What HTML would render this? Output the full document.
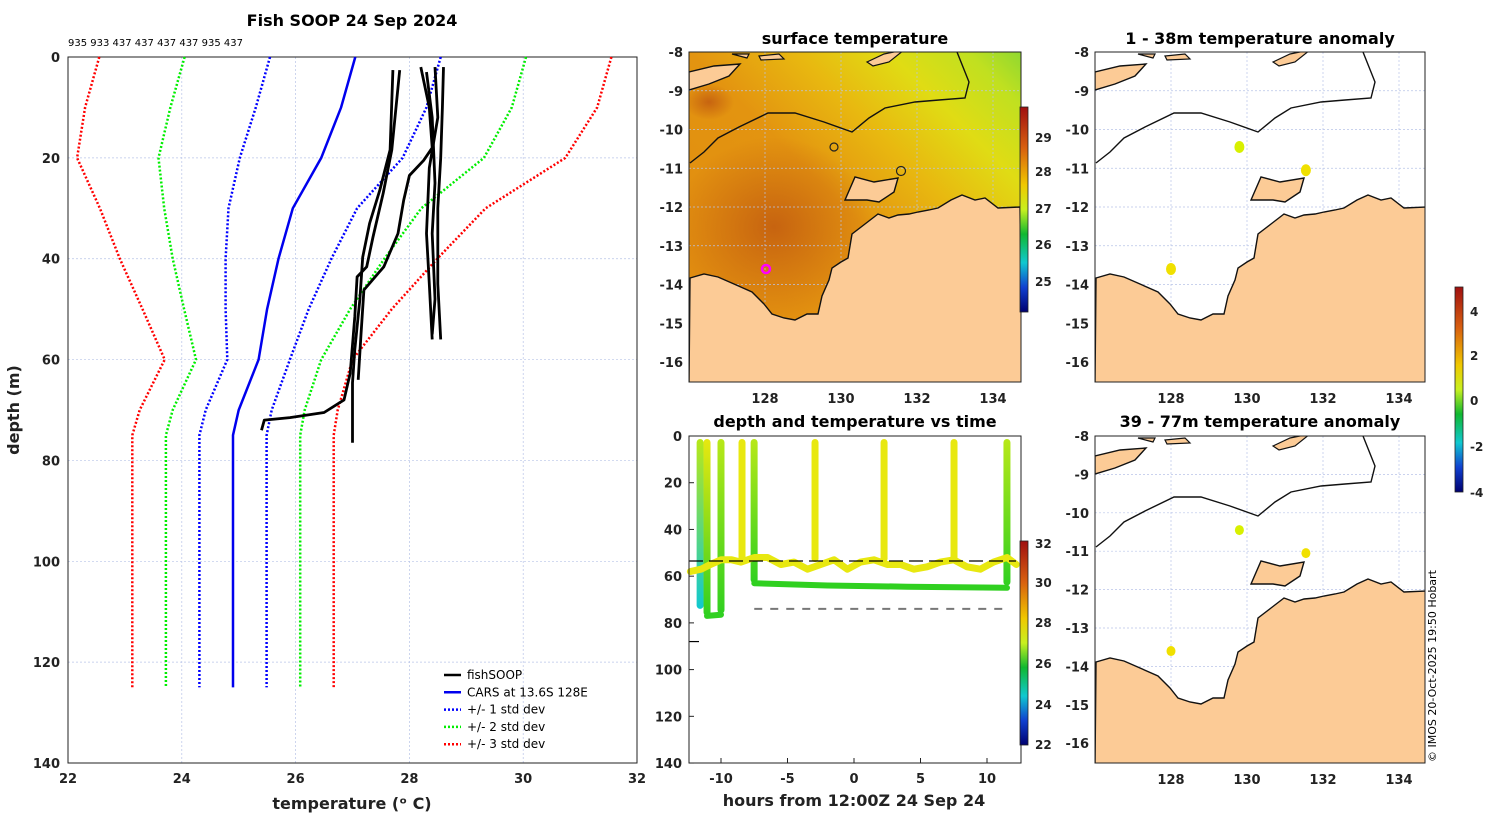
<!DOCTYPE html>
<html><head><meta charset="utf-8"><style>
html,body{margin:0;padding:0;background:#fff;}
svg{display:block;font-family:"DejaVu Sans","Liberation Sans",sans-serif;}
.tk{font-size:13px;font-weight:bold;fill:#222;}
.ttl{font-size:16px;font-weight:bold;fill:#000;}
</style></head><body>
<svg id="fig" width="1500" height="820" viewBox="0 0 1500 820" xmlns="http://www.w3.org/2000/svg">
<defs>
<linearGradient id="cb1" x1="0" y1="0" x2="0" y2="1">
<stop offset="0" stop-color="#a01010"/><stop offset="0.2" stop-color="#d86010"/><stop offset="0.38" stop-color="#f0c800"/><stop offset="0.5" stop-color="#c8f020"/><stop offset="0.62" stop-color="#10b830"/><stop offset="0.76" stop-color="#10c8d0"/><stop offset="0.88" stop-color="#1040d0"/><stop offset="1" stop-color="#000070"/></linearGradient>
<linearGradient id="sstg" x1="0" y1="1" x2="1" y2="0">
<stop offset="0" stop-color="#e08a10"/><stop offset="0.5" stop-color="#e39410"/><stop offset="0.66" stop-color="#e8b810"/><stop offset="0.8" stop-color="#e0dc14"/><stop offset="0.92" stop-color="#c0e020"/><stop offset="1" stop-color="#90d830"/></linearGradient>
<radialGradient id="hot" cx="0.5" cy="0.5" r="0.5"><stop offset="0" stop-color="#c05810" stop-opacity="0.8"/><stop offset="1" stop-color="#c05810" stop-opacity="0"/></radialGradient>
<clipPath id="c2"><rect x="689" y="52" width="332" height="330"/></clipPath>
<clipPath id="c3"><rect x="1095" y="52" width="330" height="330"/></clipPath>
<clipPath id="c5"><rect x="1095" y="436" width="330" height="327"/></clipPath>
</defs>
<g id="g1"></g><g id="g2"></g><g id="g3"></g><g id="g4"></g><g id="g5"></g>
</svg>
<script>
// ---------- Panel 1 data ----------
const carsDepth=[0,10,20,30,40,50,60,70,75,125];
const carsMean=[27.05,26.8,26.45,25.95,25.7,25.5,25.35,25.0,24.9,24.9];
const carsStd=[1.5,1.5,1.43,1.13,0.93,0.73,0.55,0.58,0.59,0.59];
const prof1T=[27.71,27.66,27.48,27.3,27.18,27.13,27.04,27.0,27.0];
const prof1D=[2.6,18.4,26.4,33,39.7,48,58,64.6,76.5];
const prof2T=[27.83,27.69,27.54,27.36,27.25,27.08,27.04,26.96,26.85,26.5,25.9,25.45,25.4];
const prof2D=[2.6,18.4,27,35.7,41.6,43.6,51.5,62.7,68,70.5,71.5,72,74];
const prof3T=[28.2,28.35,28.4,28.25,28.0,27.9,27.8,27.55,27.2,27.15,27.1];
const prof3D=[2,10,18,20.5,23.5,28.4,35,41.6,46.2,55,64];
const prof4T=[28.6,28.58,28.55,28.5,28.5,28.55];
const prof4D=[2,10,20,30,45,56];
const prof5T=[28.45,28.5,28.35,28.3,28.35,28.4];
const prof5D=[2,12,22,35,45,56];
const prof6T=[28.3,28.4,28.45,28.4,28.45,28.4];
const prof6D=[3,12,25,35,48,55];
const xTicks1=[22,24,26,28,30,32];
const yTicks1=[0,20,40,60,80,100,120,140];

const NS="http://www.w3.org/2000/svg";
function mk(parent,tag,attrs,name,txt){const e=document.createElementNS(NS,tag);for(const k in attrs)e.setAttribute(k,attrs[k]);


if(txt!==undefined)e.textContent=txt;parent.appendChild(e);return e;}
function pts(xs,ys,fx,fy){return xs.map((v,i)=>fx(v).toFixed(1)+','+fy(ys[i]).toFixed(1)).join(' ');}

const g1=document.getElementById('g1');
const X1=t=>68+(t-22)*56.9, Y1=d=>57+d*5.043;
mk(g1,'rect',{x:68,y:57,width:569,height:706,fill:'#fff',stroke:'none'},'temp-depth-axes');
xTicks1.forEach(t=>{mk(g1,'line',{x1:X1(t),x2:X1(t),y1:57,y2:763,stroke:'#b8c4e8','stroke-width':0.7,'stroke-dasharray':'2,2'},'x-gridline');
 mk(g1,'text',{x:X1(t),y:783,'text-anchor':'middle',class:'tk'},'x-tick-label',String(t));});
yTicks1.forEach(d=>{mk(g1,'line',{x1:68,x2:637,y1:Y1(d),y2:Y1(d),stroke:'#b8c4e8','stroke-width':0.7,'stroke-dasharray':'2,2'},'y-gridline');
 mk(g1,'text',{x:60,y:Y1(d)+5,'text-anchor':'end',class:'tk'},'y-tick-label',String(d));});
mk(g1,'rect',{x:68,y:57,width:569,height:706,fill:'none',stroke:'#222','stroke-width':1},'axes-frame');
[[3,'#ff0000'],[2,'#00ee00'],[1,'#0000ff']].forEach(([k,c])=>{
 [-1,1].forEach(sg=>{mk(g1,'polyline',{points:pts(carsMean.map((m,i)=>m+sg*k*carsStd[i]),carsDepth,X1,Y1),fill:'none',stroke:c,'stroke-width':2.5,'stroke-dasharray':'2,2'},'std-dev-'+k+'-line');});});
mk(g1,'polyline',{points:pts(carsMean,carsDepth,X1,Y1),fill:'none',stroke:'#0000ee','stroke-width':2.5},'cars-mean-line');
[[prof1T,prof1D],[prof2T,prof2D],[prof3T,prof3D],[prof4T,prof4D],[prof5T,prof5D],[prof6T,prof6D]].forEach(([t,d])=>{
 mk(g1,'polyline',{points:pts(t,d,X1,Y1),fill:'none',stroke:'#000','stroke-width':2.8,'stroke-linejoin':'round'},'fishsoop-profile');});
mk(g1,'text',{x:352,y:26,'text-anchor':'middle',class:'ttl'},'chart-title','Fish SOOP 24 Sep 2024');
mk(g1,'text',{x:68,y:46,'font-size':10,fill:'#000'},'profile-ids','935 933 437 437 437 437 935 437');
mk(g1,'text',{x:352,y:809,'text-anchor':'middle','font-size':16,'font-weight':'bold',fill:'#222'},'x-axis-title','temperature (\u1d52 C)');
mk(g1,'text',{x:19,y:410,'text-anchor':'middle','font-size':16,'font-weight':'bold',fill:'#222',transform:'rotate(-90 19 410)'},'y-axis-title','depth (m)');
const leg=[['fishSOOP','#000',''],['CARS at 13.6S 128E','#0000ee',''],['+/- 1 std dev','#0000ff','2,2'],['+/- 2 std dev','#00ee00','2,2'],['+/- 3 std dev','#ff0000','2,2']];
leg.forEach((l,i)=>{const y=675+i*17.3;
 mk(g1,'line',{x1:444,x2:461,y1:y,y2:y,stroke:l[1],'stroke-width':2.5,'stroke-dasharray':l[2]||'none'},'legend-swatch');
 mk(g1,'text',{x:467,y:y+4,'font-size':12,fill:'#000'},'legend-entry',l[0]);});

// ---------- Maps ----------
const coast=[[1,226],[15,222],[29,225],[45,232],[63,240],[75,252],[83,262],[95,266],[106,268],[118,262],[129,262],[133,244],[140,228],[143,216],[152,210],[159,206],[163,182],[176,172],[189,162],[200,166],[209,163],[220,162],[229,160],[240,158],[249,156],[262,148],[273,143],[286,148],[296,146],[309,156],[331,155],[333,332],[0,332]];
const island=[[156,148],[166,125],[185,130],[209,126],[205,140],[190,150],[178,148]];
const tlIsland=[[0,20],[25,14],[51,12],[40,24],[20,32],[0,38]];
const tIslands=[[[70,2],[90,0],[95,5],[72,6]],[[178,8],[195,0],[215,-4],[200,8],[184,12]],[[43,0],[60,0],[58,4]]];
const contour=[[1,111],[15,100],[29,86],[50,75],[79,61],[106,61],[135,70],[163,80],[180,66],[196,56],[226,50],[250,48],[276,46],[280,30],[268,0]];
function poly(p,ox,oy){return p.map(q=>(q[0]+ox)+','+(q[1]+oy)).join(' ');}
function drawMap(g,ox,oy,w,h,clip,bg,latTop,latPx){
 const gg=mk(g,'g',{'clip-path':'url(#'+clip+')'},'map-area');
 mk(gg,'rect',{x:ox,y:oy,width:w,height:h,fill:bg},'map-background');
 if(bg!=='#fff'){mk(gg,'ellipse',{cx:ox+85,cy:oy+175,rx:100,ry:90,fill:'url(#hot)'},'warm-patch');
  mk(gg,'ellipse',{cx:ox+20,cy:oy+50,rx:25,ry:18,fill:'url(#hot)'},'warm-patch');}
 [128,130,132,134].forEach(l=>{mk(gg,'line',{x1:ox+76+(l-128)*38,x2:ox+76+(l-128)*38,y1:oy,y2:oy+h,stroke:'#b8c4e8','stroke-width':0.7,'stroke-dasharray':'2,2'},'lon-gridline');});
 for(let la=-8;la>=-16;la--){const y=oy+(-8-la)*latPx;mk(gg,'line',{x1:ox,x2:ox+w,y1:y,y2:y,stroke:'#b8c4e8','stroke-width':0.7,'stroke-dasharray':'2,2'},'lat-gridline');}
 mk(gg,'polyline',{points:poly(contour,ox,oy),fill:'none',stroke:'#111','stroke-width':1.4},'bathymetry-contour');
 mk(gg,'polygon',{points:poly(coast,ox,oy),fill:'#fccb96',stroke:'#111','stroke-width':1.4},'land-australia');
 mk(gg,'polygon',{points:poly(island,ox,oy),fill:'#fccb96',stroke:'#111','stroke-width':1.4},'land-island');
 mk(gg,'polygon',{points:poly(tlIsland,ox,oy),fill:'#fccb96',stroke:'#111','stroke-width':1.4},'land-timor');
 tIslands.forEach(p=>mk(gg,'polygon',{points:poly(p,ox,oy+2),fill:'#fccb96',stroke:'#111','stroke-width':1.2},'land-islet'));
 mk(g,'rect',{x:ox,y:oy,width:w,height:h,fill:'none',stroke:'#222','stroke-width':1},'map-frame');
 for(let la=-8;la>=-16;la--){const y=oy+(-8-la)*latPx;
  mk(g,'text',{x:ox-6,y:y+5,'text-anchor':'end',class:'tk'},'lat-tick-label',String(la));}
 [128,130,132,134].forEach(l=>mk(g,'text',{x:ox+76+(l-128)*38,y:oy+h+21,'text-anchor':'middle',class:'tk'},'lon-tick-label',String(l)));
}
const g2=document.getElementById('g2');
drawMap(g2,689,52,332,330,'c2','url(#sstg)',-8,38.75);
mk(g2,'text',{x:855,y:44,'text-anchor':'middle',class:'ttl'},'sst-title','surface temperature');
mk(g2,'circle',{cx:766,cy:269,r:4,fill:'none',stroke:'#ff00ff','stroke-width':2.5},'cars-location-marker');
mk(g2,'circle',{cx:834,cy:147,r:4,fill:'none',stroke:'#222','stroke-width':1.2},'profile-marker');
mk(g2,'circle',{cx:901,cy:171,r:4.5,fill:'none',stroke:'#222','stroke-width':1.2},'profile-marker');
mk(g2,'rect',{x:1020,y:107,width:8,height:205,fill:'url(#cb1)',stroke:'#222','stroke-width':0.8},'sst-colorbar');
[[29,137],[28,171],[27,208],[26,244],[25,281]].forEach(([v,y])=>mk(g2,'text',{x:1035,y:y+5,'font-size':12,'font-weight':'bold',fill:'#222'},'colorbar-tick-label',String(v)));

// anomaly data
const anomLon=[129.8,131.55,128.0];
const anomLat=[-10.45,-11.05,-13.6];
const anomShallow=[0.3,2.2,2.6];
const anomDeep=[0.5,2.6,2.6];
function anomColor(v){const s=[[-4,'#000080'],[-2,'#00a0e0'],[0,'#00cc00'],[2,'#d8f000'],[3,'#f0e000'],[4,'#e04000'],[5,'#900000']];
 for(let i=0;i<s.length-1;i++){if(v<=s[i+1][0])return s[i+1][1];}return s[s.length-1][1];}
const g3=document.getElementById('g3');
drawMap(g3,1095,52,330,330,'c3','#fff',-8,38.75);
mk(g3,'text',{x:1260,y:44,'text-anchor':'middle',class:'ttl'},'anomaly-shallow-title','1 - 38m temperature anomaly');
anomLon.forEach((l,i)=>mk(g3,'ellipse',{cx:1095+76+(l-128)*38,cy:52+(-8-anomLat[i])*38.75,rx:5,ry:6,fill:anomColor(anomShallow[i])},'anomaly-dot'));
const g5=document.getElementById('g5');
drawMap(g5,1095,436,330,327,'c5','#fff',-8,38.4);
mk(g5,'text',{x:1260,y:427,'text-anchor':'middle',class:'ttl'},'anomaly-deep-title','39 - 77m temperature anomaly');
anomLon.forEach((l,i)=>mk(g5,'ellipse',{cx:1095+76+(l-128)*38,cy:436+(-8-anomLat[i])*38.4,rx:4.5,ry:5,fill:anomColor(anomDeep[i])},'anomaly-dot'));
mk(g5,'rect',{x:1455,y:287,width:8,height:205,fill:'url(#cb1)',stroke:'#222','stroke-width':0.8},'anomaly-colorbar');
[[4,311],[2,355],[0,400],[-2,446],[-4,492]].forEach(([v,y])=>mk(g5,'text',{x:1470,y:y+5,'font-size':12,'font-weight':'bold',fill:'#222'},'colorbar-tick-label',String(v)));
mk(g5,'text',{x:1436,y:762,'font-size':11,fill:'#000',transform:'rotate(-90 1436 762)'},'copyright-note','\u00a9 IMOS 20-Oct-2025 19:50 Hobart');

// ---------- Panel 4: depth vs time ----------
const castTimes=[-11.57,-11.05,-10.0,-8.42,-7.51,-2.93,2.26,7.52,11.5];
const castBottom=[74,77,76,55,63,54,54,54,64];
const castTopTemp=[28.3,29.0,28.9,29.4,28.6,29.4,29.4,29.4,28.4];
const castBotTemp=[25.6,27.0,27.2,29.2,27.2,29.3,29.2,29.2,27.2];
const towT=[-12.3,-11.5,-10.8,-10,-9.2,-8.5,-7.5,-6.5,-5.5,-4.5,-3.5,-2.5,-1.5,-0.5,0.5,1.5,2.5,3.5,4.5,5.5,6.5,7.5,8.5,9.5,10.5,11.5,12.2];
const towD=[58,57,55,53,53,54,52,52,55,54,57,55,53,57,54,53,55,55,57,56,54,53,56,57,54,52,55];
const greenT=[-7.5,-2,4,11.5];
const greenD=[63,64,64.5,65];
const lowerT=[-11.05,-10.0];
const lowerD=[77,76.5];
const xTicks4=[-10,-5,0,5,10];
const yTicks4=[0,20,40,60,80,100,120,140];
const X4=t=>854+t*13.3, Y4=d=>436+d*2.336;
function tcol(v){const s=[[22,'#000080'],[24,'#1040d0'],[25.5,'#10c8d0'],[26.5,'#10c030'],[27.5,'#30d020'],[28.5,'#b8e818'],[29.5,'#e8e810'],[30.5,'#f09010'],[32,'#a01010']];
 if(v<=s[0][0])return s[0][1];for(let i=0;i<s.length-1;i++){if(v<=s[i+1][0]){return (v-s[i][0])<(s[i+1][0]-v)?s[i][1]:s[i+1][1];}}return s[s.length-1][1];}
const g4=document.getElementById('g4');
mk(g4,'text',{x:855,y:427,'text-anchor':'middle',class:'ttl'},'depth-time-title','depth and temperature vs time');
mk(g4,'rect',{x:689,y:436,width:332,height:327,fill:'#fff'},'depth-time-axes');
const defs=document.querySelector('defs');
castTimes.forEach((t,i)=>{
 const lg=mk(defs,'linearGradient',{id:'cg'+i,x1:0,y1:0,x2:0,y2:1},'cast-gradient');
 mk(lg,'stop',{offset:0,'stop-color':tcol(castTopTemp[i])},'gradient-stop');
 mk(lg,'stop',{offset:1,'stop-color':tcol(castBotTemp[i])},'gradient-stop');
 mk(g4,'rect',{x:X4(t)-3.5,y:Y4(0)+3,width:7,height:Y4(castBottom[i])-Y4(0)-3,rx:3.5,fill:'url(#cg'+i+')'},'cast-profile');});
mk(g4,'polyline',{points:pts(lowerT,lowerD,X4,Y4),fill:'none',stroke:tcol(27.0),'stroke-width':6,'stroke-linecap':'round'},'bottom-tow-segment');
mk(g4,'polyline',{points:pts(greenT,greenD,X4,Y4),fill:'none',stroke:tcol(27.2),'stroke-width':6,'stroke-linecap':'round'},'deep-tow-line');
mk(g4,'polyline',{points:pts(towT,towD,X4,Y4),fill:'none',stroke:tcol(29.4),'stroke-width':7,'stroke-linejoin':'round','stroke-linecap':'round'},'shallow-tow-line');
mk(g4,'line',{x1:689,x2:1016,y1:Y4(53.5),y2:Y4(53.5),stroke:'#000','stroke-width':1.2,'stroke-dasharray':'14,6'},'reference-dashed-line');
mk(g4,'line',{x1:X4(-7.5),x2:X4(11.5),y1:Y4(74),y2:Y4(74),stroke:'#777','stroke-width':2,'stroke-dasharray':'8,8'},'gray-dashed-line');
mk(g4,'line',{x1:689,x2:699,y1:Y4(88),y2:Y4(88),stroke:'#000','stroke-width':1.2},'marker-tick');
mk(g4,'rect',{x:689,y:436,width:332,height:327,fill:'none',stroke:'#222','stroke-width':1},'axes-frame');
xTicks4.forEach(t=>{mk(g4,'line',{x1:X4(t),x2:X4(t),y1:763,y2:758,stroke:'#222'},'x-tick');
 mk(g4,'text',{x:X4(t),y:783,'text-anchor':'middle',class:'tk'},'x-tick-label',String(t));});
yTicks4.forEach(d=>{mk(g4,'line',{x1:689,x2:694,y1:Y4(d),y2:Y4(d),stroke:'#222'},'y-tick');
 mk(g4,'text',{x:682,y:Y4(d)+5,'text-anchor':'end',class:'tk'},'y-tick-label',String(d));});
mk(g4,'text',{x:854,y:806,'text-anchor':'middle','font-size':16,'font-weight':'bold',fill:'#222'},'x-axis-title','hours from 12:00Z 24 Sep 24');
mk(g4,'rect',{x:1020,y:541,width:8,height:204,fill:'url(#cb1)',stroke:'#222','stroke-width':0.8},'temp-colorbar');
[[32,543],[30,582],[28,622],[26,663],[24,704],[22,744]].forEach(([v,y])=>mk(g4,'text',{x:1035,y:y+5,'font-size':12,'font-weight':'bold',fill:'#222'},'colorbar-tick-label',String(v)));
</script>
</body></html>
